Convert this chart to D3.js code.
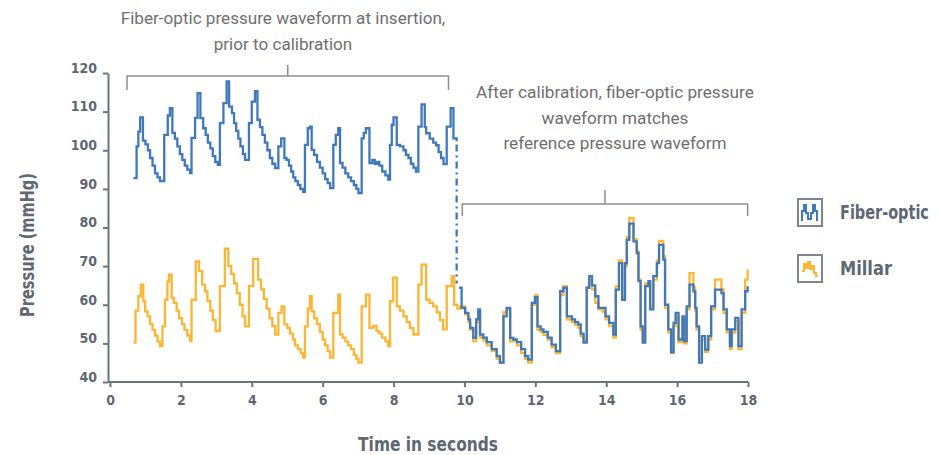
<!DOCTYPE html>
<html>
<head>
<meta charset="utf-8">
<script src="https://cdn.jsdelivr.net/npm/d3@7"></script>
<style>
  html, body { margin: 0; padding: 0; background: #ffffff; }
  svg { display: block; }
  .lbl { font-family: 'DejaVu Sans Condensed', 'DejaVu Sans', sans-serif; font-stretch: condensed; }
  .note { font-family: 'Roboto', 'Noto Sans', sans-serif; }
</style>
</head>
<body>
<svg id="chart" width="938" height="455"></svg>
<script>
// ---------------- DATA ----------------
const yTicks = [40, 50, 60, 70, 80, 90, 100, 110, 120];
const xTicks = [0, 2, 4, 6, 8, 10, 12, 14, 16, 18];
const seriesNames = ["Fiber-optic", "Millar"];
const annotLeft = ["Fiber-optic pressure waveform at insertion,", "prior to calibration"];
const annotRight = ["After calibration, fiber-optic pressure", "waveform matches", "reference pressure waveform"];
const xTitle = "Time in seconds";
const yTitle = "Pressure (mmHg)";

// fiber-optic before calibration [time s, mmHg]
const fiberPre = [
  [0.66, 92.8], [0.75, 101], [0.8, 104.8], [0.85, 108.5], [0.93, 102.5], [1.0, 101.5], [1.07, 100], [1.13, 98], [1.2, 96], [1.27, 94], [1.34, 93], [1.41, 92],
  [1.53, 104], [1.63, 109], [1.69, 110.9], [1.76, 104.5], [1.83, 103], [1.9, 101], [1.97, 99], [2.04, 97.5], [2.11, 96], [2.18, 95], [2.26, 94.1],
  [2.3, 103.2], [2.4, 108.4], [2.47, 114.8], [2.55, 108.3], [2.63, 105.7], [2.7, 104], [2.76, 102], [2.83, 100.5], [2.9, 98.5], [2.97, 97], [3.04, 96.2],
  [3.1, 107], [3.2, 112.2], [3.29, 117.8], [3.36, 111.3], [3.44, 109.6], [3.5, 107], [3.56, 105], [3.62, 103], [3.68, 101], [3.75, 99], [3.81, 97.5],
  [3.92, 107], [4.0, 112.6], [4.09, 115.3], [4.16, 107.9], [4.23, 106], [4.3, 104], [4.37, 102], [4.44, 100], [4.51, 98], [4.58, 96.5], [4.66, 95.4],
  [4.75, 101], [4.83, 103.1], [4.92, 98], [4.98, 97.5], [5.05, 96], [5.11, 94.5], [5.17, 93], [5.23, 92], [5.3, 91], [5.37, 90], [5.45, 89.2],
  [5.5, 101.4], [5.58, 105.7], [5.64, 106.1], [5.69, 100.1], [5.76, 98.8], [5.84, 97], [5.92, 95.5], [6.0, 94], [6.07, 92.5], [6.14, 91.5], [6.21, 90.2],
  [6.3, 101.4], [6.37, 104], [6.44, 105.7], [6.49, 96.7], [6.56, 95.5], [6.64, 94], [6.72, 93], [6.8, 92], [6.88, 91], [6.95, 90], [7.01, 88.9],
  [7.1, 103.1], [7.16, 104.5], [7.22, 105.7], [7.32, 96.7], [7.4, 97.5], [7.47, 96.5], [7.54, 97], [7.6, 96], [7.68, 94.5], [7.77, 93.5], [7.85, 92.4],
  [7.9, 101.4], [7.95, 106.6], [8.0, 108.5], [8.09, 101.4], [8.18, 101], [8.28, 100], [8.35, 98.8], [8.42, 98], [8.49, 96.5], [8.56, 95.5], [8.63, 94.5],
  [8.7, 106.1], [8.79, 111.9], [8.88, 106], [8.92, 104.4], [9.02, 103], [9.12, 102], [9.2, 101.3], [9.27, 99.5], [9.34, 98], [9.41, 96.4],
  [9.5, 106.1], [9.61, 110.9], [9.69, 103.1], [9.78, 102.3]
];

// transition drawn dash-dot at calibration
const calibLink = [[9.78, 101.5], [9.78, 65.5]];

// fiber-optic after calibration
const fiberPost = [
  [9.85, 64.4], [9.92, 59.2], [10.02, 57.9], [10.11, 56.2], [10.16, 54], [10.25, 51.4],
  [10.33, 56.2], [10.39, 58.8], [10.44, 52.3], [10.53, 51.5], [10.63, 50.3], [10.77, 48.5], [10.91, 46.7], [11.0, 45],
  [11.1, 57], [11.19, 59.2], [11.29, 51.4], [11.38, 51], [11.48, 50.3], [11.6, 48.5], [11.71, 46.7], [11.8, 45.8],
  [11.9, 60.5], [11.99, 62], [12.06, 54.4], [12.15, 53.6], [12.23, 53], [12.35, 51.5], [12.46, 49.7], [12.58, 48],
  [12.7, 63.5], [12.79, 64.4], [12.89, 57], [13.03, 56.2], [13.12, 55.5], [13.21, 54.9], [13.28, 52.5], [13.36, 50.2],
  [13.45, 64.4], [13.52, 67.4], [13.6, 65], [13.69, 62.2], [13.78, 59.2], [13.9, 59.2], [13.98, 57], [14.08, 55.3], [14.2, 52.3],
  [14.27, 63.9], [14.36, 70.8], [14.45, 61.3], [14.53, 70.8], [14.58, 76.8], [14.65, 81], [14.77, 76.4], [14.86, 73.4], [14.91, 66.1], [14.97, 54.4], [15.03, 50.2],
  [15.1, 64.8], [15.19, 66.1], [15.24, 58.8], [15.33, 67.4], [15.43, 70.8], [15.49, 75.5], [15.61, 71.7], [15.66, 60], [15.75, 53.6], [15.83, 47.6],
  [15.9, 55.3], [15.96, 57.9], [16.04, 51], [16.15, 57], [16.2, 50.6], [16.27, 59.6], [16.35, 65.2], [16.46, 63.5], [16.51, 59.2], [16.55, 54.4], [16.62, 45],
  [16.7, 51.9], [16.79, 48.4], [16.88, 51.9], [16.96, 59.6], [17.07, 63.9], [17.25, 63], [17.31, 58.8], [17.4, 53.6], [17.49, 49.3],
  [17.54, 53.6], [17.64, 56.6], [17.73, 49.3], [17.82, 58.8], [17.92, 63.5], [17.99, 64.8]
];

// Millar reference catheter, whole record
const millar = [
  [0.66, 50.2], [0.72, 58.5], [0.8, 62.2], [0.87, 65.2], [0.94, 60.9], [0.99, 58.3], [1.06, 57], [1.13, 55], [1.2, 53.5], [1.27, 52], [1.34, 50.5], [1.41, 49.3],
  [1.48, 54.4], [1.55, 61.3], [1.62, 66], [1.66, 67.8], [1.74, 61.8], [1.8, 60.5], [1.88, 58.5], [1.95, 56.5], [2.03, 55], [2.1, 53.5], [2.18, 52], [2.26, 50.6],
  [2.3, 61.3], [2.42, 71.2], [2.51, 68.7], [2.6, 65.2], [2.68, 63.5], [2.75, 61], [2.83, 58.5], [2.9, 56], [2.98, 53.2],
  [3.1, 64.8], [3.24, 74.5], [3.34, 70], [3.42, 68], [3.5, 65.5], [3.58, 63], [3.66, 60], [3.74, 57], [3.81, 54.4],
  [3.92, 64.8], [4.04, 71.9], [4.18, 66.5], [4.26, 64], [4.34, 61.5], [4.42, 59], [4.5, 56.5], [4.58, 54.5], [4.66, 52.3],
  [4.75, 57.9], [4.84, 59.6], [4.92, 54.9], [5.0, 54], [5.08, 52.5], [5.16, 51], [5.22, 49.5], [5.3, 48.5], [5.38, 47.5], [5.45, 46.3],
  [5.5, 54.4], [5.58, 59], [5.64, 62.2], [5.69, 58.3], [5.76, 56.5], [5.84, 55], [5.92, 53], [6.0, 51], [6.07, 49.5], [6.14, 48], [6.21, 46.3],
  [6.3, 57.9], [6.44, 62.6], [6.49, 52.3], [6.56, 51.5], [6.64, 50.5], [6.72, 49.5], [6.8, 48.5], [6.88, 47], [6.95, 46], [7.01, 45],
  [7.1, 59.6], [7.22, 62.6], [7.32, 54], [7.42, 54.5], [7.52, 53.2], [7.6, 52.5], [7.68, 51.5], [7.77, 50.5], [7.85, 49.3],
  [7.9, 60.9], [7.99, 67], [8.09, 59.6], [8.18, 58.5], [8.28, 57], [8.37, 55.5], [8.46, 54], [8.56, 52.3],
  [8.7, 65.2], [8.79, 70.4], [8.92, 61.3], [9.02, 60.5], [9.12, 59.6], [9.22, 58], [9.31, 56], [9.4, 53.6],
  [9.5, 64.8], [9.64, 67.4], [9.71, 60], [9.8, 59], [9.88, 59.6],
  [9.92, 59.6], [10.02, 57.5], [10.11, 55.5], [10.16, 53.5], [10.25, 50.5],
  [10.33, 55.5], [10.39, 58], [10.44, 51.5], [10.53, 50.8], [10.63, 49.5], [10.77, 48], [10.91, 46], [11.0, 45],
  [11.1, 58], [11.19, 58.8], [11.29, 50.5], [11.38, 50.8], [11.48, 49.5], [11.6, 47.5], [11.71, 46], [11.8, 45],
  [11.9, 60], [11.99, 62.5], [12.06, 53.5], [12.15, 53], [12.23, 52.2], [12.35, 51], [12.46, 49], [12.58, 47.5],
  [12.7, 62.5], [12.79, 64.8], [12.89, 56.2], [13.03, 55.5], [13.12, 54.8], [13.21, 54], [13.28, 51.8], [13.36, 50.5],
  [13.45, 64.4], [13.52, 66.5], [13.6, 64], [13.69, 60.5], [13.78, 58.8], [13.9, 58.2], [13.98, 56.2], [14.08, 54.5], [14.2, 51.5],
  [14.27, 64.8], [14.36, 71.5], [14.45, 62], [14.53, 70], [14.58, 77.5], [14.65, 82.5], [14.77, 77], [14.86, 73.8], [14.91, 66.5], [14.97, 53.5], [15.03, 50.8],
  [15.1, 65.5], [15.19, 65.2], [15.24, 59.6], [15.33, 66.5], [15.43, 71.5], [15.49, 76.5], [15.61, 72.5], [15.66, 59.2], [15.75, 52.8], [15.83, 48],
  [15.9, 54.5], [15.96, 57], [16.04, 50.3], [16.15, 56.2], [16.2, 50], [16.27, 58.8], [16.35, 68.2], [16.46, 64.5], [16.51, 58.5], [16.55, 53.6], [16.62, 46],
  [16.7, 51], [16.79, 47.8], [16.88, 51], [16.96, 58.8], [17.07, 66.5], [17.25, 64], [17.31, 57.9], [17.4, 52.8], [17.49, 48.5],
  [17.54, 52.8], [17.64, 55.8], [17.73, 48.5], [17.82, 57.9], [17.92, 66.5], [17.99, 69.1]
];

// ---------------- DRAW ----------------
const BLUE = "#3f79bb";
const GOLD = "#fbb634";
const AXIS = "#6b7580";
const TXT = "#5d6873";
const NOTE = "#6f6f6f";

const svg = d3.select("#chart");
const x = d3.scaleLinear().domain([0, 18]).range([110, 748]);
const y = d3.scaleLinear().domain([40, 120]).range([382, 73]);
const axisX0 = 108;

// squeeze a text horizontally (in its own frame) to a target width
function squeeze(sel, tx, ty, rot, width) {
  const natural = sel.node().getComputedTextLength();
  const s = Math.min(1, width / natural);
  sel.attr("transform", `translate(${tx},${ty}) rotate(${rot}) scale(${s},1)`);
}

// axes
const gy = svg.append("g").attr("transform", `translate(${axisX0},0)`)
  .call(d3.axisLeft(y).tickValues(yTicks).tickSize(5).tickSizeOuter(0).tickPadding(6));
const gx = svg.append("g").attr("transform", `translate(0,${y(40)})`)
  .call(d3.axisBottom(x).tickValues(xTicks).tickSize(5).tickSizeOuter(0).tickPadding(8));
[gx, gy].forEach(g => {
  g.selectAll("line, path").attr("stroke", AXIS).attr("stroke-width", 2);
  g.selectAll("text").attr("class", "lbl").attr("fill", TXT)
    .attr("font-size", 14).attr("font-weight", "bold");
});
gy.selectAll("text").attr("dy", "-0.05em");
gx.select(".domain").attr("d", `M${axisX0},0H${x(18)}`);

// axis titles
const xt = svg.append("text").attr("class", "lbl")
  .attr("text-anchor", "middle").attr("font-size", 19).attr("font-weight", "bold")
  .attr("fill", TXT).text(xTitle);
squeeze(xt, 428, 451, 0, 140);
const yt = svg.append("text").attr("class", "lbl")
  .attr("text-anchor", "middle").attr("font-size", 20).attr("font-weight", "bold")
  .attr("fill", TXT).text(yTitle);
squeeze(yt, 34, 245, -90, 144);

// lines
const line = d3.line().x(d => x(d[0])).y(d => y(d[1])).curve(d3.curveStepAfter);
svg.append("path").datum(millar).attr("d", line)
  .attr("fill", "none").attr("stroke", GOLD).attr("stroke-width", 2.3).attr("stroke-linejoin", "miter");
svg.append("path").datum(fiberPre).attr("d", line)
  .attr("fill", "none").attr("stroke", BLUE).attr("stroke-width", 2.3);
svg.append("path").datum(fiberPost).attr("d", line)
  .attr("fill", "none").attr("stroke", BLUE).attr("stroke-width", 2.3);
svg.append("path").datum(calibLink).attr("d", d3.line().x(d => x(d[0])).y(d => y(d[1])))
  .attr("fill", "none").attr("stroke", BLUE).attr("stroke-width", 2.3)
  .attr("stroke-dasharray", "7,4,2,4");

// annotation brackets (spans in data units)
function bracket(t0, t1, yy, drop, rise) {
  const xa = x(t0), xb = x(t1), xm = (xa + xb) / 2;
  svg.append("path")
    .attr("d", `M${xa},${yy + drop}V${yy}H${xb}V${yy + drop}M${xm},${yy}V${yy - rise}`)
    .attr("fill", "none").attr("stroke", "#8d8d8d").attr("stroke-width", 1.5);
  return xm;
}
bracket(0.48, 9.55, 76, 14, 11);
bracket(9.94, 17.99, 204, 12, 14);

function note(lines, cx, y0, dy, size) {
  lines.forEach((s, i) => {
    svg.append("text").attr("class", "note").attr("x", cx).attr("y", y0 + i * dy)
      .attr("text-anchor", "middle").attr("font-size", size).attr("fill", NOTE).text(s);
  });
}
note(annotLeft, 283, 24, 26, 17.1);
note(annotRight, 615, 98, 25.5, 17.2);

// legend
const lg = svg.append("g");
const legendY = [199, 255];
const legendW = [89, 52];
seriesNames.forEach((name, i) => {
  const g = lg.append("g").attr("transform", `translate(798,${legendY[i]})`);
  g.append("rect").attr("width", 24).attr("height", 27).attr("fill", "#fff")
    .attr("stroke", "#7c8690").attr("stroke-width", 2);
  const icon = i === 0
    ? "M4,22V12H6V6H8V14H10V20H13V14H15V6H17V12H19V22"
    : "M4,16H6V9H8V13H10V7H12V14H14V11H16V18H18V21H20";
  g.append("path").attr("d", icon).attr("fill", "none")
    .attr("stroke", i === 0 ? BLUE : GOLD).attr("stroke-width", 2);
  const t = g.append("text").attr("class", "lbl")
    .attr("font-size", 20).attr("font-weight", "bold").attr("fill", TXT).text(name);
  squeeze(t, 42, 20, 0, legendW[i]);
});
</script>
</body>
</html>
